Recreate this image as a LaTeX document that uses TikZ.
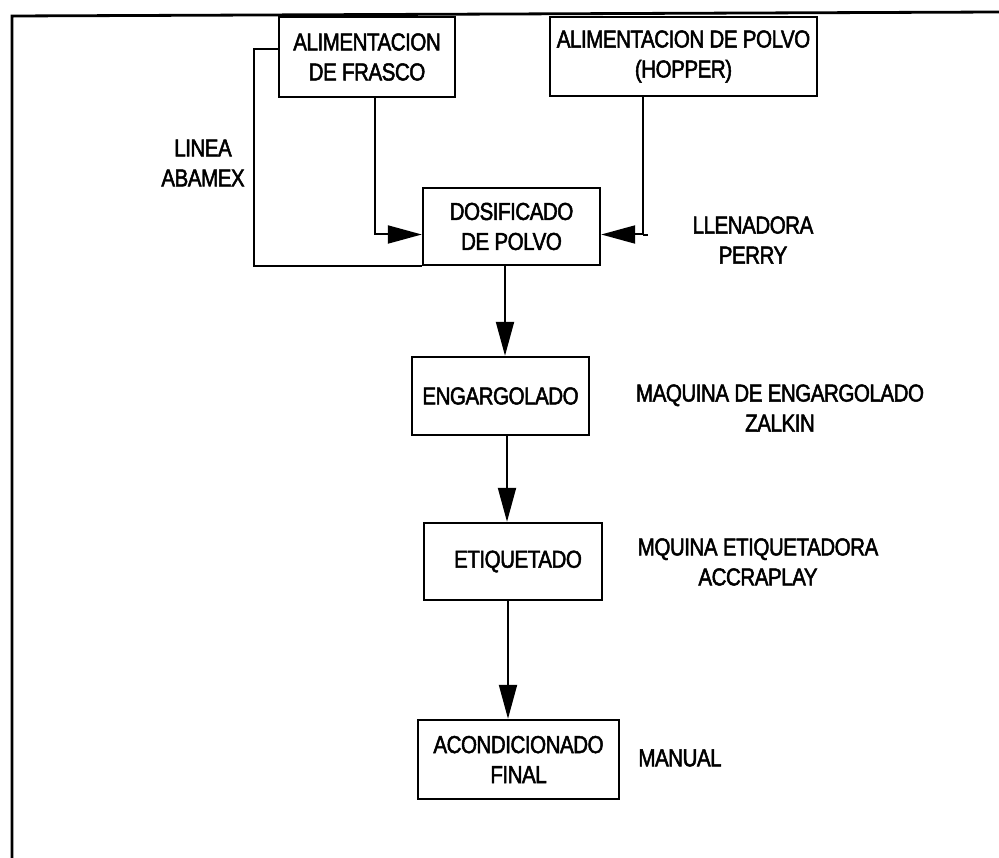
\documentclass[tikz,border=0pt]{standalone}
\usepackage{fontspec}
\setmainfont{Liberation Sans}[FakeStretch=0.84,FakeBold=2,LetterSpace=-2]
\usetikzlibrary{arrows.meta}
\begin{document}
\begin{tikzpicture}[x=1pt,y=-1pt,
  every node/.style={font=\fontsize{24.5}{30}\selectfont, align=center, inner sep=0pt},
  procbox/.style={draw, line width=2.4pt},
  link/.style={line width=2pt},
  flow/.style={line width=2pt, -{Triangle[length=34pt,width=18pt]}},
  frame/.style={line width=2.8pt}]
  \useasboundingbox (0,0) rectangle (999,858);
  % page frame (top and left edges)
  \draw[frame] (12,858) -- (12,16) -- (999,12);

  % process boxes
  \node[procbox, minimum width=176pt, minimum height=80pt] (f) at (367,57) {ALIMENTACION\\DE FRASCO};
  \node[procbox, minimum width=267pt, minimum height=79pt] (h) at (683.5,56.5) {ALIMENTACION DE POLVO\\(HOPPER)};
  \node[procbox, minimum width=177pt, minimum height=77pt] (d) at (511.5,226.5) {DOSIFICADO\\DE POLVO};
  \node[procbox, minimum width=177pt, minimum height=78pt] (e) at (500.5,396) {ENGARGOLADO};
  \node[procbox, minimum width=178pt, minimum height=77pt] (t) at (513,561.5) {\hspace*{10pt}ETIQUETADO};
  \node[procbox, minimum width=201pt, minimum height=79pt] (a) at (518.5,759.5) {ACONDICIONADO\\FINAL};

  % side labels
  \node (l1) at (203,163) {LINEA\\ABAMEX};
  \node (l2) at (753,240) {LLENADORA\\PERRY};
  \node (l3) at (780,408) {MAQUINA DE ENGARGOLADO\\ZALKIN};
  \node (l4) at (758,562) {MQUINA ETIQUETADORA\\ACCRAPLAY};
  \node (l5) at (680,758) {MANUAL};

  % feeds into the filler
  \draw[flow] ([xshift=8pt]f.south) |- ([yshift=-8pt]d.west);
  \draw[flow] ([xshift=-40.5pt]h.south) |- ([yshift=-8pt]d.east);
  \draw[link] ([xshift=-40.5pt,yshift=-138pt]h.south) -- ++(5,0);
  % line loop
  \draw[link] ([yshift=8pt]f.west) -- ++(-24,0) |- (d.south west);

  % main sequence
  \draw[flow] (505,0 |- d.south) -- (505,0 |- e.north);
  \draw[flow] (507,0 |- e.south) -- (507,0 |- t.north);
  \draw[flow] (508,0 |- t.south) -- (508,0 |- a.north);
\end{tikzpicture}
\end{document}
